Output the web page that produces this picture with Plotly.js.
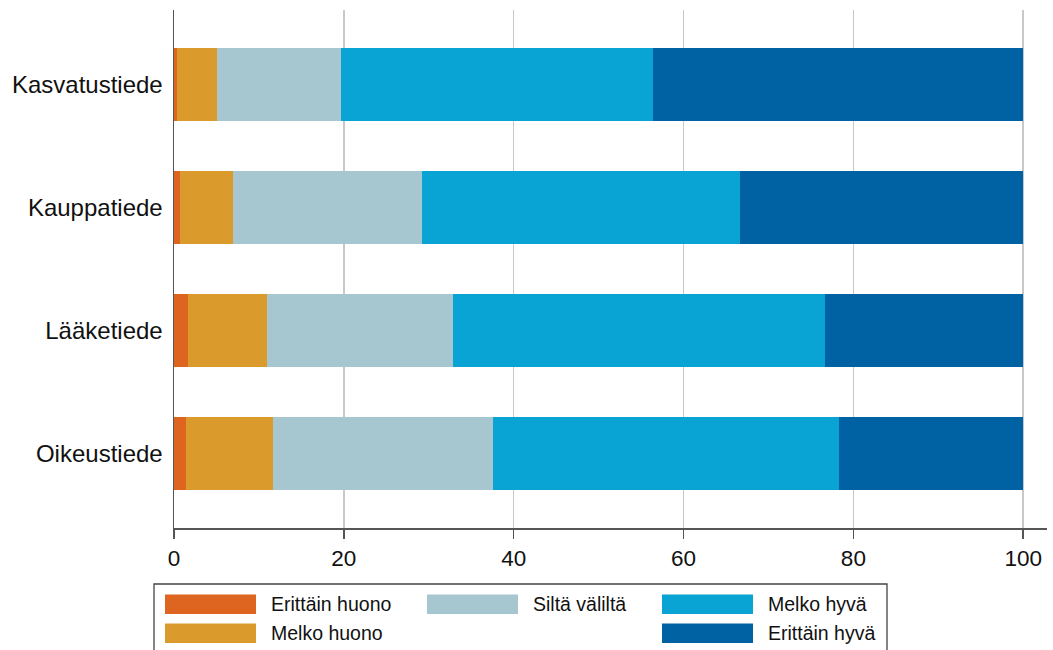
<!DOCTYPE html>
<html>
<head>
<meta charset="utf-8">
<script src="https://cdn.plot.ly/plotly-3.0.1.min.js"></script>
<style>html,body{margin:0;padding:0;background:#fff;}#chart{width:1053px;height:650px;}</style>
</head>
<body>
<div id="chart"></div>
<script>
const categories = ["Kasvatustiede", "Kauppatiede", "Lääketiede", "Oikeustiede"];
const seriesNames = ["Erittäin huono", "Melko huono", "Siltä väliltä", "Melko hyvä", "Erittäin hyvä"];
const erittainHuono = [0.3, 0.7, 1.6, 1.4];
const melkoHuono = [4.8, 6.2, 9.4, 10.2];
const siltaValilta = [14.6, 22.3, 21.9, 26.0];
const melkoHyva = [36.7, 37.4, 43.8, 40.7];
const erittainHyva = [43.6, 33.4, 23.3, 21.7];
const seriesValues = [erittainHuono, melkoHuono, siltaValilta, melkoHyva, erittainHyva];
const seriesColors = ["#dd6520", "#db9a2c", "#a6c6d0", "#0aa4d4", "#0062a3"];
const xTicks = [0, 20, 40, 60, 80, 100];

const traces = seriesNames.map((name, i) => ({
  type: "bar",
  orientation: "h",
  name: name,
  y: categories,
  x: seriesValues[i],
  marker: {color: seriesColors[i], line: {width: 0}},
  showlegend: false,
  hoverinfo: "x+y+name"
}));

// plot area in pixels
const L = 174, R = 1047, T = 10, B = 528;
const px = x => (x - L) / (R - L);
const py = y => (B - y) / (B - T);

// custom legend layout (column, row) per series
const legendPos = [[0, 0], [0, 1], [1, 0], [2, 0], [2, 1]];
const colSwatchX = [165, 427, 662];
const swW = 91, swH = 19.5;
const rowTopY = [594.5, 623.5];

const shapes = [{
  type: "rect", xref: "paper", yref: "paper",
  x0: px(154), x1: px(887), y0: py(584), y1: py(670),
  line: {color: "#444", width: 1.3}, fillcolor: "rgba(0,0,0,0)"
}];
const annotations = [];
seriesNames.forEach((name, i) => {
  const [c, r] = legendPos[i];
  const x0 = colSwatchX[c], y0 = rowTopY[r];
  shapes.push({
    type: "rect", xref: "paper", yref: "paper",
    x0: px(x0), x1: px(x0 + swW), y0: py(y0 + swH), y1: py(y0),
    line: {width: 0}, fillcolor: seriesColors[i]
  });
  annotations.push({
    xref: "paper", yref: "paper", x: px(x0 + swW + 13), y: py(y0 + swH / 2),
    xanchor: "left", yanchor: "middle", showarrow: false,
    text: name, font: {family: "Liberation Sans, Arial, sans-serif", size: 19.5, color: "#111"}
  });
});

const layout = {
  width: 1053, height: 650,
  margin: {l: L, r: 1053 - R, t: T, b: 650 - B, pad: 0},
  barmode: "stack",
  bargap: 0.405,
  paper_bgcolor: "#fff", plot_bgcolor: "#fff",
  font: {family: "Liberation Sans, Arial, sans-serif", color: "#111"},
  xaxis: {
    range: [0, 102.8],
    tickvals: xTicks,
    ticktext: xTicks.map(String),
    showgrid: true, gridcolor: "#c8c8c8", gridwidth: 1.6,
    zeroline: false,
    showline: true, linecolor: "#555", linewidth: 1.5,
    ticks: "outside", ticklen: 9, tickcolor: "#555", tickwidth: 1.5,
    tickfont: {size: 22.5, color: "#111"}
  },
  yaxis: {
    type: "category",
    categoryorder: "array", categoryarray: categories,
    range: [3.61, -0.61],
    showgrid: false, zeroline: false,
    showline: true, linecolor: "#555", linewidth: 1.5,
    ticks: "", ticklabelstandoff: 5,
    tickfont: {size: 24, color: "#111"}
  },
  shapes: shapes,
  annotations: annotations,
  showlegend: false
};

Plotly.newPlot("chart", traces, layout, {displayModeBar: false, staticPlot: true});
</script>
</body>
</html>
